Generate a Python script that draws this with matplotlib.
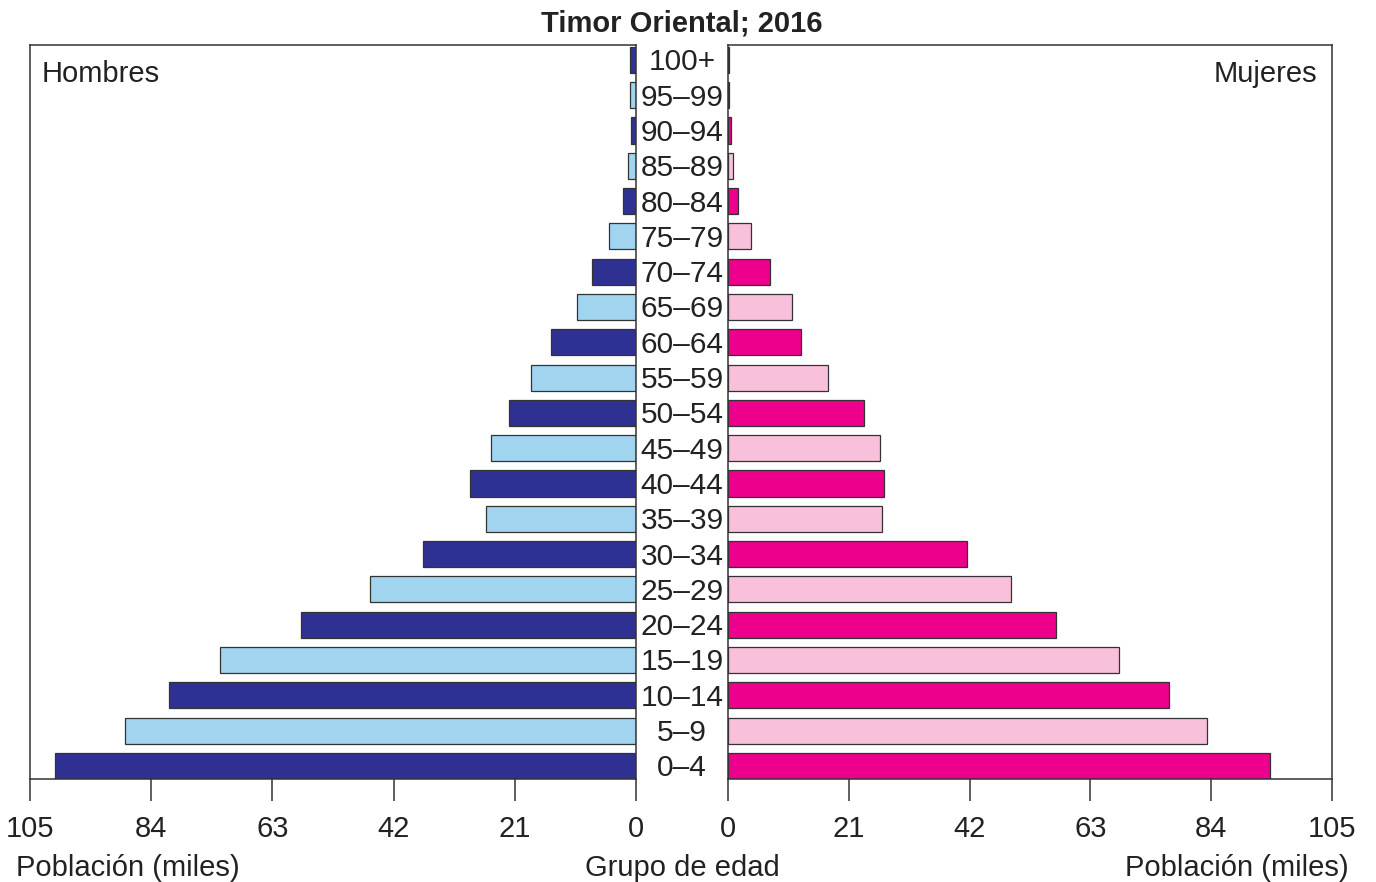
import numpy as np
import matplotlib
matplotlib.use('Agg')
import matplotlib.pyplot as plt
from matplotlib.transforms import blended_transform_factory

plt.rcParams['font.family'] = ['Liberation Sans', 'DejaVu Sans']

age_groups = ['0–4', '5–9', '10–14', '15–19', '20–24', '25–29', '30–34', '35–39',
              '40–44', '45–49', '50–54', '55–59', '60–64', '65–69', '70–74', '75–79',
              '80–84', '85–89', '90–94', '95–99', '100+']
men = [100.7, 88.5, 80.9, 72.1, 58.0, 46.1, 36.9, 26.0, 28.8, 25.1, 22.0,
       18.2, 14.7, 10.2, 7.6, 4.7, 2.3, 1.4, 0.8, 1.0, 1.0]
women = [94.2, 83.3, 76.7, 68.0, 57.0, 49.2, 41.6, 26.8, 27.1, 26.4, 23.6,
         17.4, 12.7, 11.1, 7.3, 4.0, 1.7, 0.9, 0.6, 0.2, 0.2]
ticks = [0, 21, 42, 63, 84, 105]

men_cols = ['#2e3192', '#a0d4ef']
women_cols = ['#ec008c', '#f8c0da']
edge = '#333333'
txt = '#222222'

fig = plt.figure(figsize=(13.76, 8.82), dpi=100)
ax_l = fig.add_axes([30 / 1376, 103 / 882, 606 / 1376, 734 / 882])
ax_r = fig.add_axes([728 / 1376, 103 / 882, 604 / 1376, 734 / 882])

y = np.arange(len(age_groups))
mc = [men_cols[i % 2] for i in y]
wc = [women_cols[i % 2] for i in y]
ax_l.barh(y, men, height=0.74, color=mc, edgecolor=edge, linewidth=0.9)
ax_r.barh(y, women, height=0.74, color=wc, edgecolor=edge, linewidth=0.9)

ax_l.set_xlim(105, 0)
ax_r.set_xlim(0, 105)
for ax in (ax_l, ax_r):
    ax.set_ylim(-0.37, 20.42)
    ax.set_xticks(ticks)
    ax.set_xticklabels([str(t) for t in ticks])
    ax.set_yticks([])
    ax.tick_params(axis='x', direction='out', length=16, width=1.1, color=edge,
                   labelsize=21, pad=10, labelcolor=txt)
    for s in ax.spines.values():
        s.set_color(edge)
        s.set_linewidth(1.1)

ax_l.text(0.019, 0.96, 'Hombres', transform=ax_l.transAxes, fontsize=21,
          ha='left', va='center', color=txt)
ax_r.text(0.975, 0.96, 'Mujeres', transform=ax_r.transAxes, fontsize=21,
          ha='right', va='center', color=txt)

tr = blended_transform_factory(fig.transFigure, ax_l.transData)
for i, lab in enumerate(age_groups):
    fig.text(682 / 1376, i - 0.07, lab, transform=tr, ha='center', va='center',
             fontsize=21.5, color=txt)

fig.text(682 / 1376, 1 - 23 / 882, 'Timor Oriental; 2016', ha='center', va='center',
         fontsize=21, fontweight='bold', color=txt)
fig.text(128 / 1376, 1 - 868 / 882, 'Población (miles)', ha='center', va='center',
         fontsize=21, color=txt)
fig.text(682 / 1376, 1 - 868 / 882, 'Grupo de edad', ha='center', va='center',
         fontsize=21, color=txt)
fig.text(1237 / 1376, 1 - 868 / 882, 'Población (miles)', ha='center', va='center',
         fontsize=21, color=txt)

fig.savefig('out.png', dpi=100)
